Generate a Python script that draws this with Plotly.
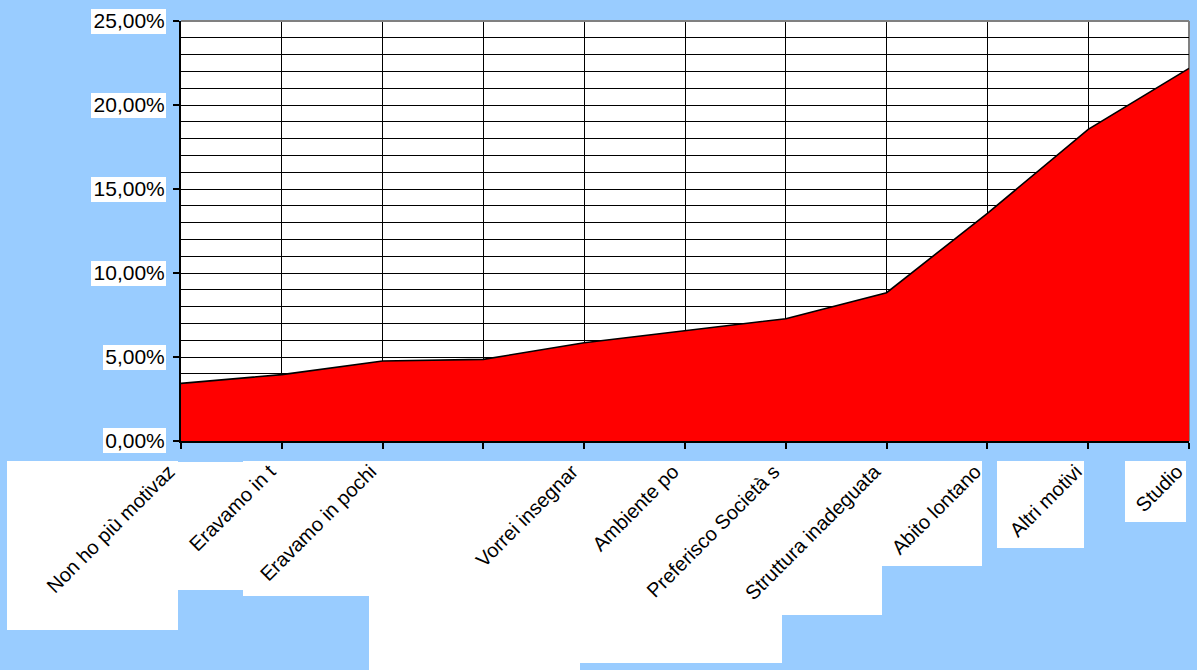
import plotly.graph_objects as go

# ---- data ----
categories = [
    "Non ho più motivaz",
    "Eravamo in t",
    "Eravamo in pochi",
    "",
    "Vorrei insegnar",
    "Ambiente po",
    "Preferisco Società s",
    "Struttura inadeguata",
    "Abito lontano",
    "Altri motivi",
    "Studio",
]
values = [0.0343, 0.0395, 0.0476, 0.0486, 0.0585, 0.0655, 0.0728, 0.0883, 0.1355, 0.1855, 0.2218]
y_ticks = [0.0, 0.05, 0.10, 0.15, 0.20, 0.25]

positions = list(range(len(categories)))

BG = "#99CCFF"
W, H = 1197, 670
L, R, T, B = 181, 8, 21, 229
PW, PH = W - L - R, H - T - B


def px(x, y):
    """pixel -> paper coords"""
    return (x - L) / PW, (H - B - y) / PH


fig = go.Figure()
fig.add_trace(go.Scatter(
    x=positions, y=values, mode="lines", fill="tozeroy",
    fillcolor="#FF0000", line=dict(color="black", width=1.6),
    hoverinfo="skip", showlegend=False,
))

shapes = []
# white boxes behind tick labels (decorative, as in the reference)
boxes = [
    # y labels
    (91, 9, 166, 34), (91, 93, 166, 118), (91, 177, 166, 202),
    (91, 261, 166, 286), (103, 345, 166, 370), (103, 428, 166, 453),
    # x labels
    (7, 461, 178, 630), (178, 462, 243, 590), (243, 461, 369, 596),
    (369, 461, 483, 670), (483, 461, 580, 670), (580, 461, 782, 663),
    (728, 461, 882, 615), (882, 461, 982, 566), (997, 461, 1084, 548),
    (1125, 461, 1186, 522),
]
for x0, y0, x1, y1 in boxes:
    a0, b0 = px(x0, y1)
    a1, b1 = px(x1, y0)
    shapes.append(dict(type="rect", xref="paper", yref="paper", x0=a0, y0=b0,
                       x1=a1, y1=b1, fillcolor="white", line=dict(width=0),
                       layer="below"))
# grey top and right border of the plot area
shapes.append(dict(type="line", xref="paper", yref="paper", x0=0, y0=1, x1=1, y1=1,
                   line=dict(color="#808080", width=2), layer="above"))
shapes.append(dict(type="line", xref="paper", yref="paper", x0=1, y0=0, x1=1, y1=1,
                   line=dict(color="#808080", width=2), layer="below"))

fig.update_layout(
    width=W, height=H, autosize=False,
    margin=dict(l=L, r=R, t=T, b=B, pad=0, autoexpand=False),
    paper_bgcolor=BG, plot_bgcolor="white",
    separators=",.",
    font=dict(family="Liberation Sans, Arial, sans-serif", color="black"),
    showlegend=False,
    shapes=shapes,
    xaxis=dict(
        range=[0, len(categories) - 1],
        tickmode="array", tickvals=positions, ticktext=categories,
        tickangle=-45, tickfont=dict(size=20, color="black"),
        ticklabeloverflow="allow", automargin=False,
        ticklabelshift=-12, ticklabelstandoff=3,
        ticks="outside", ticklen=6, tickwidth=1.5, tickcolor="black",
        showgrid=True, gridcolor="black", gridwidth=1.2,
        showline=True, linecolor="black", linewidth=2,
        zeroline=False, fixedrange=True,
    ),
    yaxis=dict(
        range=[0, 0.25],
        tickmode="array", tickvals=y_ticks, tickformat=".2%",
        tickfont=dict(size=21, color="black"),
        ticklabeloverflow="allow", automargin=False,
        ticks="outside", ticklen=6, tickwidth=1.5, tickcolor="black",
        ticklabelstandoff=4,
        showgrid=True, gridcolor="black", gridwidth=1.2,
        minor=dict(dtick=0.01, showgrid=True, gridcolor="black", gridwidth=1.2, ticks=""),
        showline=True, linecolor="black", linewidth=2,
        zeroline=False, fixedrange=True,
    ),
)

fig.write_html(
    "out.html",
    config={"displayModeBar": False},
    post_script="document.body.style.margin='0';document.body.style.overflow='hidden';",
)
